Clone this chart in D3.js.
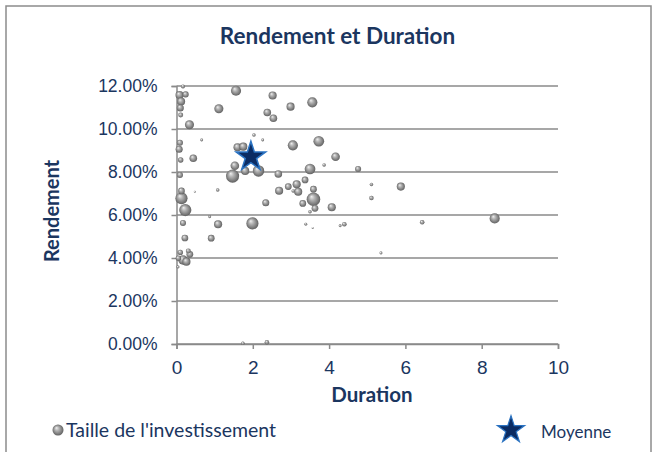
<!DOCTYPE html>
<html>
<head>
<meta charset="utf-8">
<script src="https://cdn.jsdelivr.net/npm/d3@7"></script>
<style>
  body { margin: 0; background: #fff; }
  svg { display: block; font-family: Lato, "Open Sans", sans-serif; }
  .tick text { fill: #1b365f; font-size: 17.5px; }
</style>
</head>
<body>
<div id="chart"></div>
<script>
// duration (années), rendement (%), taille de l'investissement
const duration = [0.17, 0.08, 0.24, 0.12, 0.10, 0.11, 0.34, 1.11, 1.56, 2.52,
    2.99, 3.56, 2.38, 2.54, 0.09, 0.07, 0.66, 2.03, 2.26, 1.60,
    1.75, 3.05, 3.73, 4.17, 3.87, 4.76, 1.53, 1.47, 1.80, 2.15,
    2.67, 0.11, 0.44, 0.09, 0.48, 1.08, 3.50, 3.37, 3.15, 2.93,
    2.69, 3.59, 3.19, 3.06, 3.59, 3.31, 3.63, 4.07, 3.50, 5.11,
    5.88, 5.11, 6.44, 8.34, 5.36, 3.39, 3.57, 4.29, 4.40, 2.34,
    0.13, 0.13, 0.23, 0.87, 0.17, 1.09, 1.99, 0.22, 0.91, 0.10,
    0.31, 0.35, 0.17, 0.26, 0.05, 0.04, 1.74, 2.37];
const rendement = [11.98, 11.58, 11.61, 11.28, 10.98, 10.65, 10.20, 10.94, 11.78, 11.56,
    11.04, 11.24, 10.77, 10.50, 9.36, 9.06, 9.49, 9.72, 9.49, 9.15,
    9.18, 9.24, 9.43, 8.71, 8.33, 8.14, 8.29, 7.81, 8.05, 8.05,
    7.91, 8.56, 8.64, 7.86, 7.08, 7.16, 8.14, 7.63, 7.43, 7.32,
    7.13, 7.20, 7.08, 7.12, 6.73, 6.54, 6.31, 6.36, 6.15, 7.42,
    7.32, 6.79, 5.66, 5.84, 4.23, 5.57, 5.40, 5.50, 5.57, 6.57,
    7.12, 6.78, 6.23, 5.92, 5.63, 5.57, 5.61, 4.93, 4.92, 4.26,
    4.33, 4.17, 3.91, 3.83, 3.99, 3.58, 0.03, 0.08];
const taille = [4, 16, 9, 16, 12, 6, 20, 20, 25, 16,
    16, 25, 14, 14, 9, 12, 2, 3, 2, 16,
    16, 25, 28, 18, 3, 9, 18, 42, 16, 32,
    14, 7, 14, 9, 1, 3, 28, 11, 16, 11,
    16, 11, 16, 3, 45, 11, 11, 16, 3, 3,
    16, 5, 5, 25, 2, 2, 1, 2, 5, 12,
    11, 36, 36, 2, 9, 16, 36, 11, 11, 7,
    6, 11, 22, 16, 7, 2, 3, 5];
const moyenne = {duration: 1.95, rendement: 8.71};

const xTicks = [0, 2, 4, 6, 8, 10];
const yTicks = [0, 2, 4, 6, 8, 10, 12];

const points = duration.map(function(d, i) {
    return {x: d, y: rendement[i], s: taille[i]};
}).sort(function(a, b) { return b.s - a.s; });

const width = 659, height = 452;
const margin = {top: 86, right: 101, bottom: 108, left: 176.5};

const svg = d3.select("#chart").append("svg")
    .attr("width", width)
    .attr("height", height);

// gradient sphérique des bulles
const defs = svg.append("defs");
const grad = defs.append("radialGradient")
    .attr("id", "bulle")
    .attr("cx", "50%").attr("cy", "50%").attr("r", "55%")
    .attr("fx", "35%").attr("fy", "30%");
grad.append("stop").attr("offset", "0%").attr("stop-color", "#f0f0f0");
grad.append("stop").attr("offset", "35%").attr("stop-color", "#b3b3b3");
grad.append("stop").attr("offset", "80%").attr("stop-color", "#747474");
grad.append("stop").attr("offset", "100%").attr("stop-color", "#555");

// cadre
svg.append("rect")
    .attr("x", 6).attr("y", 6)
    .attr("width", 645).attr("height", 470)
    .attr("fill", "#fff")
    .attr("stroke", "#8c8c8c")
    .attr("stroke-width", 1.5);

const xScale = d3.scaleLinear()
    .domain([0, 10])
    .range([margin.left, width - margin.right]);

const yScale = d3.scaleLinear()
    .domain([0, 12])
    .range([height - margin.bottom, margin.top]);

const rScale = d3.scaleSqrt()
    .domain([0, 45])
    .range([0, 6.8]);

/* grille */
svg.append("g")
    .selectAll("line")
    .data(yTicks)
    .enter().append("line")
    .attr("x1", xScale(0))
    .attr("x2", xScale(10))
    .attr("y1", function(d) { return yScale(d); })
    .attr("y2", function(d) { return yScale(d); })
    .attr("stroke", "#8a8a8a")
    .attr("stroke-width", 1.5);

/* axes */
const yAxis = svg.append("g")
    .attr("transform", "translate(" + xScale(0) + ",0)")
    .call(d3.axisLeft(yScale).tickValues(yTicks).tickSize(5).tickPadding(14)
        .tickFormat(function(d) { return d.toFixed(2) + "%"; }));

const xAxis = svg.append("g")
    .attr("transform", "translate(0," + yScale(0) + ")")
    .call(d3.axisBottom(xScale).tickValues(xTicks).tickSize(5).tickPadding(12));

[xAxis, yAxis].forEach(function(ax) {
    ax.select(".domain").attr("stroke", "#8a8a8a").attr("stroke-width", 1.5);
    ax.selectAll(".tick line").attr("stroke", "#8a8a8a").attr("stroke-width", 1.5);
});
xAxis.selectAll(".tick text").style("font-size", "19px");

/* bulles */
svg.append("g")
    .selectAll("circle")
    .data(points)
    .enter().append("circle")
    .attr("cx", function(d) { return xScale(d.x); })
    .attr("cy", function(d) { return yScale(d.y); })
    .attr("r", function(d) { return rScale(d.s); })
    .attr("fill", "url(#bulle)");

/* moyenne */
const star = d3.symbol().type(d3.symbolStar);
svg.append("path")
    .attr("d", star.size(270)())
    .attr("transform", "translate(" + xScale(moyenne.duration) + "," + yScale(moyenne.rendement) + ")")
    .attr("fill", "#0b2c63")
    .attr("stroke", "#2b73c2")
    .attr("stroke-width", 1.5);

/* titres */
svg.append("text")
    .attr("x", 337.5)
    .attr("y", 44)
    .attr("text-anchor", "middle")
    .attr("fill", "#1b365f")
    .style("font-size", "22.5px")
    .style("font-weight", "bold")
    .text("Rendement et Duration");

svg.append("text")
    .attr("x", 372)
    .attr("y", 402)
    .attr("text-anchor", "middle")
    .attr("fill", "#1b365f")
    .style("font-size", "20.5px")
    .style("font-weight", "bold")
    .text("Duration");

svg.append("text")
    .attr("transform", "translate(59,211) rotate(-90)")
    .attr("text-anchor", "middle")
    .attr("fill", "#1b365f")
    .style("font-size", "20px")
    .style("font-weight", "bold")
    .text("Rendement");

/* légende */
svg.append("circle")
    .attr("cx", 58).attr("cy", 430).attr("r", 5.5)
    .attr("fill", "url(#bulle)");
svg.append("text")
    .attr("x", 66).attr("y", 437)
    .attr("fill", "#1b365f")
    .style("font-size", "19.5px")
    .text("Taille de l'investissement");

svg.append("path")
    .attr("d", star.size(230)())
    .attr("transform", "translate(511,430)")
    .attr("fill", "#0b2c63")
    .attr("stroke", "#2b73c2")
    .attr("stroke-width", 1.2);
svg.append("text")
    .attr("x", 541).attr("y", 438)
    .attr("fill", "#1b365f")
    .style("font-size", "17px")
    .text("Moyenne");
</script>
</body>
</html>
